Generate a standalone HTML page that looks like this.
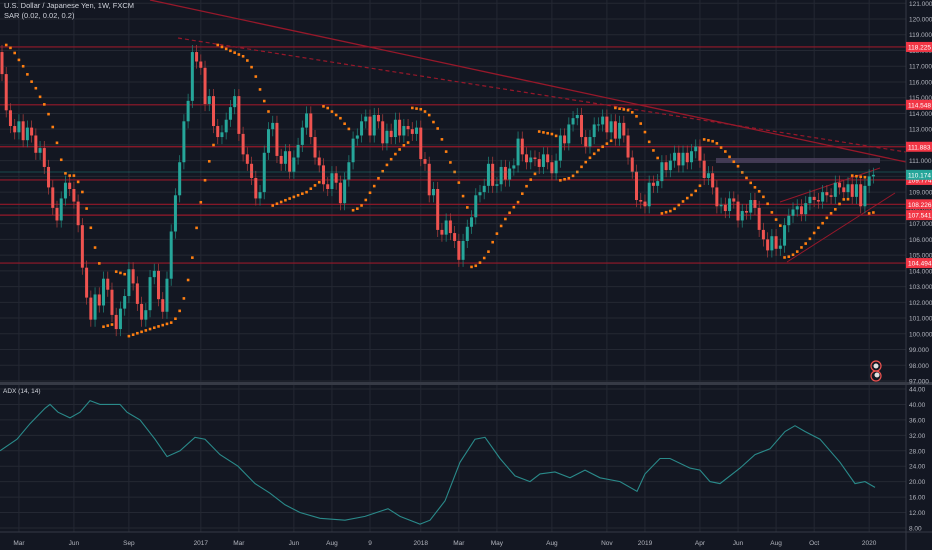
<!DOCTYPE html>
<html><head><meta charset="utf-8">
<style>
html,body{margin:0;padding:0;background:#131722;overflow:hidden}
svg{display:block;font-family:"Liberation Sans",sans-serif}
</style></head>
<body>
<svg id="c" width="932" height="550" xmlns="http://www.w3.org/2000/svg">
<rect width="932" height="550" fill="#131722"/>
<g id="grid"></g>
<g id="levels"></g>
<g id="trend">
<line x1="150" y1="0" x2="906" y2="162" stroke="#96182a" stroke-width="1.3"/>
<line x1="178" y1="38" x2="906" y2="152" stroke="#96182a" stroke-width="1.2" stroke-dasharray="4,3"/>
<line x1="780" y1="202" x2="880" y2="168" stroke="#96182a" stroke-width="1"/>
<line x1="787" y1="262" x2="895" y2="193" stroke="#96182a" stroke-width="1"/>
<rect x="716" y="158" width="164" height="5" fill="#4e4260" opacity="0.8"/>
</g>
<g id="candles"></g>
<g id="sar"></g>
<line x1="0" y1="172" x2="906" y2="172" stroke="#26a69a" stroke-width="0.6" opacity="0.7"/>
<rect x="0" y="382" width="932" height="3" fill="#363a45"/>
<polyline id="adx" fill="none" stroke="#2a8a8a" stroke-width="1.1"/>
<line x1="906" y1="0" x2="906" y2="550" stroke="#363a45"/>
<line x1="0" y1="532" x2="932" y2="532" stroke="#363a45"/>
<g id="axes" font-size="6.5" fill="#b2b5be"></g>
<g id="labels"></g>
<text x="4" y="8" font-size="7.5" fill="#d1d4dc">U.S. Dollar / Japanese Yen, 1W, FXCM</text>
<text x="4" y="18" font-size="7.5" fill="#d1d4dc">SAR (0.02, 0.02, 0.2)</text>
<text x="3" y="393" font-size="6.5" fill="#d1d4dc">ADX (14, 14)</text>
<circle cx="876" cy="366" r="5" fill="none" stroke="#ef5350" stroke-width="1.2"/>
<circle cx="876" cy="366" r="2.5" fill="#e0e0e0"/>
<circle cx="876" cy="376" r="5" fill="none" stroke="#ef5350" stroke-width="1.2"/>
<circle cx="877" cy="375" r="2.5" fill="#e0e0e0"/>
</svg>
<script>
const closes=[116.5,114.2,113.2,112.8,113.5,112.3,113.1,112.6,111.5,111.8,
110.6,109.3,108.0,107.2,108.6,109.6,109.2,108.4,106.9,104.2,
102.3,100.9,102.5,101.8,103.5,102.8,101.2,100.3,101.6,102.4,
104.1,103.2,101.9,100.9,101.5,103.6,104.0,102.2,101.4,103.5,
106.5,108.8,110.9,113.5,114.8,117.9,117.3,116.9,114.6,115.1,
113.2,112.5,112.8,113.6,114.4,115.1,112.7,111.4,110.8,109.9,
108.6,109.0,111.5,113.0,113.4,111.3,110.8,111.6,110.3,111.2,
112.0,113.1,114.0,112.5,111.2,110.7,109.5,109.2,110.2,109.6,
108.3,109.8,110.9,112.4,112.6,113.5,113.8,112.6,113.9,113.5,
112.1,112.9,112.5,113.6,112.6,113.2,113.0,112.7,113.1,111.1,
110.8,108.8,109.2,106.6,106.3,107.2,106.4,105.9,104.7,105.9,
106.8,107.4,108.8,109.0,109.4,110.8,109.4,109.5,110.6,109.8,
110.5,110.7,112.4,111.4,110.9,111.2,111.1,110.6,111.4,110.9,
110.2,111.0,112.6,112.1,113.3,113.7,113.9,112.5,111.9,112.5,
113.3,113.3,113.8,112.8,113.5,112.4,113.4,112.6,111.2,110.3,
108.5,108.4,108.1,109.6,109.4,109.7,110.9,110.4,111.0,111.5,
110.7,111.5,110.9,111.6,111.9,111.0,109.9,110.2,109.3,108.1,
108.2,107.8,108.6,108.4,107.2,107.8,107.7,108.5,108.0,106.6,
106.0,105.3,106.2,105.4,105.6,106.9,107.5,107.9,108.1,107.6,
108.3,108.7,108.5,108.4,109.0,108.8,108.7,109.6,109.3,109.0,
109.5,108.7,109.5,108.1,109.4,110.0,110.1];
const firstOpen=117.9;
const priceTicks=[121,120,119,118,117,116,115,114,113,112,111,110,109,108,107,106,105,104,103,102,101,100,99,98,97];
const levelValues=[118.225,114.548,111.883,109.774,108.226,107.541,104.494];
const levelLabels=["118.225","114.548","111.883","109.774","108.226","107.541","104.494"];
const lastLabel="110.174";
const adxX=[0,17,30,45,50,58,70,80,90,100,120,127,140,155,167,180,195,205,220,238,255,270,285,300,320,345,365,388,400,420,430,445,460,475,485,500,515,530,540,555,570,585,600,620,637,645,660,670,690,700,710,720,740,755,770,785,795,805,820,840,855,865,875];
const adxV=[28,31,35,39,40,38,36.5,38,41,40,40,38,36,31,26.5,28,31.5,31,27,24,19.5,17,14,12,10.5,10,11,13,11,9,10,15,25,31,31.5,26,21.5,20,22,22.5,21,23,21,20,17.5,22,26,26,23.5,23,20,19.5,23.5,27,28.5,33,34.5,33,31,25,19.5,20,18.5];
const adxTicks=[44,40,36,32,28,24,20,16,12,8];
const dateLabels=["Mar","Jun","Sep","2017","Mar","Jun","Aug","9","2018","Mar","May","Aug","Nov","2019","Apr","Jun","Aug","Oct","2020"];
const dateWeeks=[4,17,30,47,56,69,78,87,99,108,117,130,143,152,165,174,183,192,205];

const NS="http://www.w3.org/2000/svg";
const py=p=>19+(120-p)*15.74;
const ay=v=>389+(44-v)*3.86;
const wx=i=>2+i*4.23;
function mk(tag,attrs,parent,text){const e=document.createElementNS(NS,tag);for(const k in attrs)e.setAttribute(k,attrs[k]);if(text!==undefined)e.textContent=text;parent.appendChild(e);return e;}
const grid=document.getElementById('grid'),axes=document.getElementById('axes'),labels=document.getElementById('labels');
priceTicks.forEach(p=>{
  const l=mk('line',{x1:0,x2:906,y1:py(p),y2:py(p),stroke:'#242833','stroke-width':1},grid);
  
  
  const t=mk('text',{x:909,y:py(p)+2.5},axes,p.toFixed(3));
  
  
});
adxTicks.forEach(v=>{
  const l=mk('line',{x1:0,x2:906,y1:ay(v),y2:ay(v),stroke:'#242833','stroke-width':1},grid);
  
  
  const t=mk('text',{x:909,y:ay(v)+2.5},axes,v.toFixed(2));
  
  
});
dateLabels.forEach((d,k)=>{
  const x=wx(dateWeeks[k]);
  const l=mk('line',{x1:x,x2:x,y1:0,y2:532,stroke:'#242833','stroke-width':1},grid);
  
  
  const t=mk('text',{x:x,y:545,'text-anchor':'middle'},axes,d);
  
  
});
const lv=document.getElementById('levels');
levelValues.forEach((v,k)=>{
  const l=mk('line',{x1:0,x2:906,y1:py(v),y2:py(v),stroke:'#96182a','stroke-width':1.2},lv);
  
  
  const r=mk('rect',{x:906,y:py(v)-5,width:26,height:10,fill:'#f23645'},labels);
  
  
  const t=mk('text',{x:908,y:py(v)+2.5,'font-size':6.5,fill:'#fff'},labels,levelLabels[k]);
  
  
});
const lp=closes[closes.length-1];
const lr=mk('rect',{x:906,y:py(lp)-5,width:26,height:10,fill:'#26a69a'},labels);


const lt=mk('text',{x:908,y:py(lp)+2.5,'font-size':6.5,fill:'#fff'},labels,lastLabel);



const cg=document.getElementById('candles');
const highs=[],lows=[];
closes.forEach((c,i)=>{
  const o=i===0?firstOpen:closes[i-1];
  const hi=Math.max(o,c)+0.45,lo=Math.min(o,c)-0.45;
  highs.push(hi);lows.push(lo);
  const up=c>=o,col=up?'#26a69a':'#ef5350',x=wx(i);
  const w=mk('line',{x1:x,x2:x,y1:py(hi),y2:py(lo),stroke:up?'#1f7d74':'#a03a3a','stroke-width':0.8},cg);
  
  
  const b=mk('rect',{x:x-1.5,y:py(Math.max(o,c)),width:3,height:Math.max(1,Math.abs(py(o)-py(c))),fill:col},cg);
  
  
});
const sg=document.getElementById('sar');
let upT=false,sar=highs[0],ep=lows[0],af=0.02;
for(let i=1;i<closes.length;i++){
  sar=sar+af*(ep-sar);
  if(upT){sar=Math.min(sar,lows[i-1]);if(lows[i]<sar){upT=false;sar=ep;ep=lows[i];af=0.02;}else if(highs[i]>ep){ep=highs[i];af=Math.min(0.2,af+0.02);}}
  else{sar=Math.max(sar,highs[i-1]);if(highs[i]>sar){upT=true;sar=ep;ep=highs[i];af=0.02;}else if(lows[i]<ep){ep=lows[i];af=Math.min(0.2,af+0.02);}}
  const d=mk('rect',{x:wx(i)-1.3,y:py(sar)-1.3,width:2.6,height:2.6,fill:'#ff7f11'},sg);
  
  
}
document.getElementById('adx').setAttribute('points',adxX.map((x,k)=>x+','+ay(adxV[k]).toFixed(1)).join(' '));
</script>
</body></html>
